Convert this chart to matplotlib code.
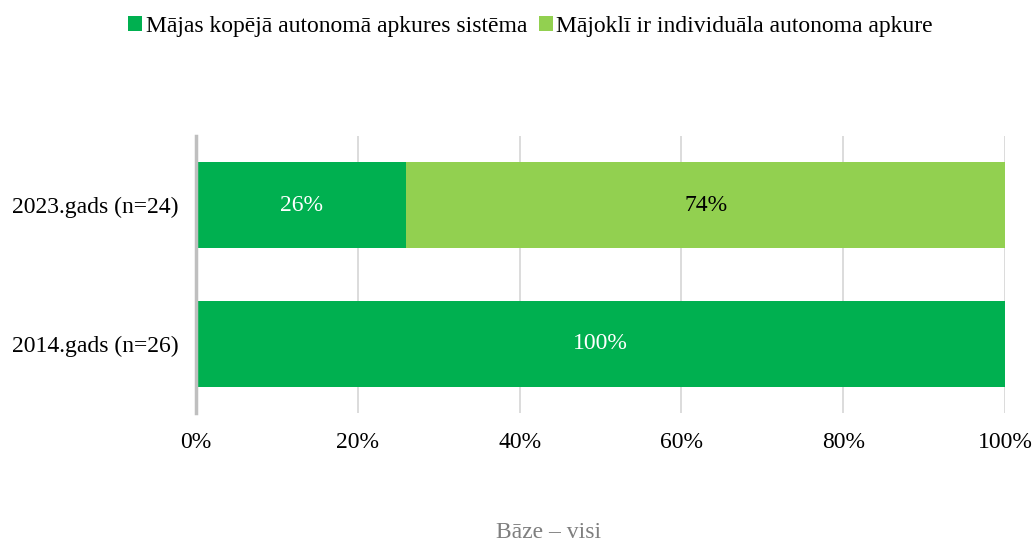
import matplotlib
matplotlib.use("Agg")
import matplotlib.pyplot as plt
from matplotlib.patches import Patch

categories = ["2014.gads (n=26)", "2023.gads (n=24)"]
series_names = ["Mājas kopējā autonomā apkures sistēma", "Mājoklī ir individuāla autonoma apkure"]
shared = [100, 26]
individual = [0, 74]
colors = ["#00B050", "#92D050"]
label_colors = ["white", "black"]
xticks = [0, 20, 40, 60, 80, 100]
xticklabels = ["0%", "20%", "40%", "60%", "80%", "100%"]
footnote = "Bāze – visi"

plt.rcParams['font.family'] = ['Liberation Serif', 'DejaVu Serif']
FS = 17

fig = plt.figure(figsize=(10.36, 5.45), dpi=100)
ax = fig.add_axes([196/1036, 1-413/545, (1005-196)/1036, (413-136)/545])

ypos = list(range(len(categories)))
h = 0.62
b1 = ax.barh(ypos, shared, height=h, color=colors[0], zorder=3)
b2 = ax.barh(ypos, individual, left=shared, height=h, color=colors[1], zorder=3)

for bars, vals, lefts, tc in [(b1, shared, [0]*len(shared), label_colors[0]),
                               (b2, individual, shared, label_colors[1])]:
    for y, v, l in zip(ypos, vals, lefts):
        if v > 0:
            ax.text(l + v/2, y, f"{v}%", ha="center", va="center", color=tc, fontsize=FS, zorder=4)

ax.set_xlim(0, 100)
ax.set_ylim(-0.5, len(categories)-0.5)
ax.set_xticks(xticks)
ax.set_xticklabels(xticklabels, fontsize=FS)
ax.set_yticks(ypos)
ax.set_yticklabels(categories, fontsize=FS)
ax.tick_params(axis='y', length=0, pad=12.5)
ax.tick_params(axis='x', length=0, pad=14)
ax.grid(axis='x', color="#D9D9D9", linewidth=1.3, zorder=0)
for s in ["top", "right", "bottom"]:
    ax.spines[s].set_visible(False)
ax.spines["left"].set_color("#BFBFBF")
ax.spines["left"].set_linewidth(2.5)
ax.spines["left"].set_zorder(5)

handles = [Patch(facecolor=c) for c in colors]
fig.legend(handles, series_names, loc="upper center", bbox_to_anchor=(0.512, 1.01), ncol=2,
           frameon=False, fontsize=FS, handlelength=0.6, handleheight=0.6, handletextpad=0.15,
           columnspacing=0.5)

fig.text(549/1036, 1-532/545, footnote, ha="center", va="center", fontsize=FS, color="#7F7F7F")

fig.savefig("out.png", dpi=100)
